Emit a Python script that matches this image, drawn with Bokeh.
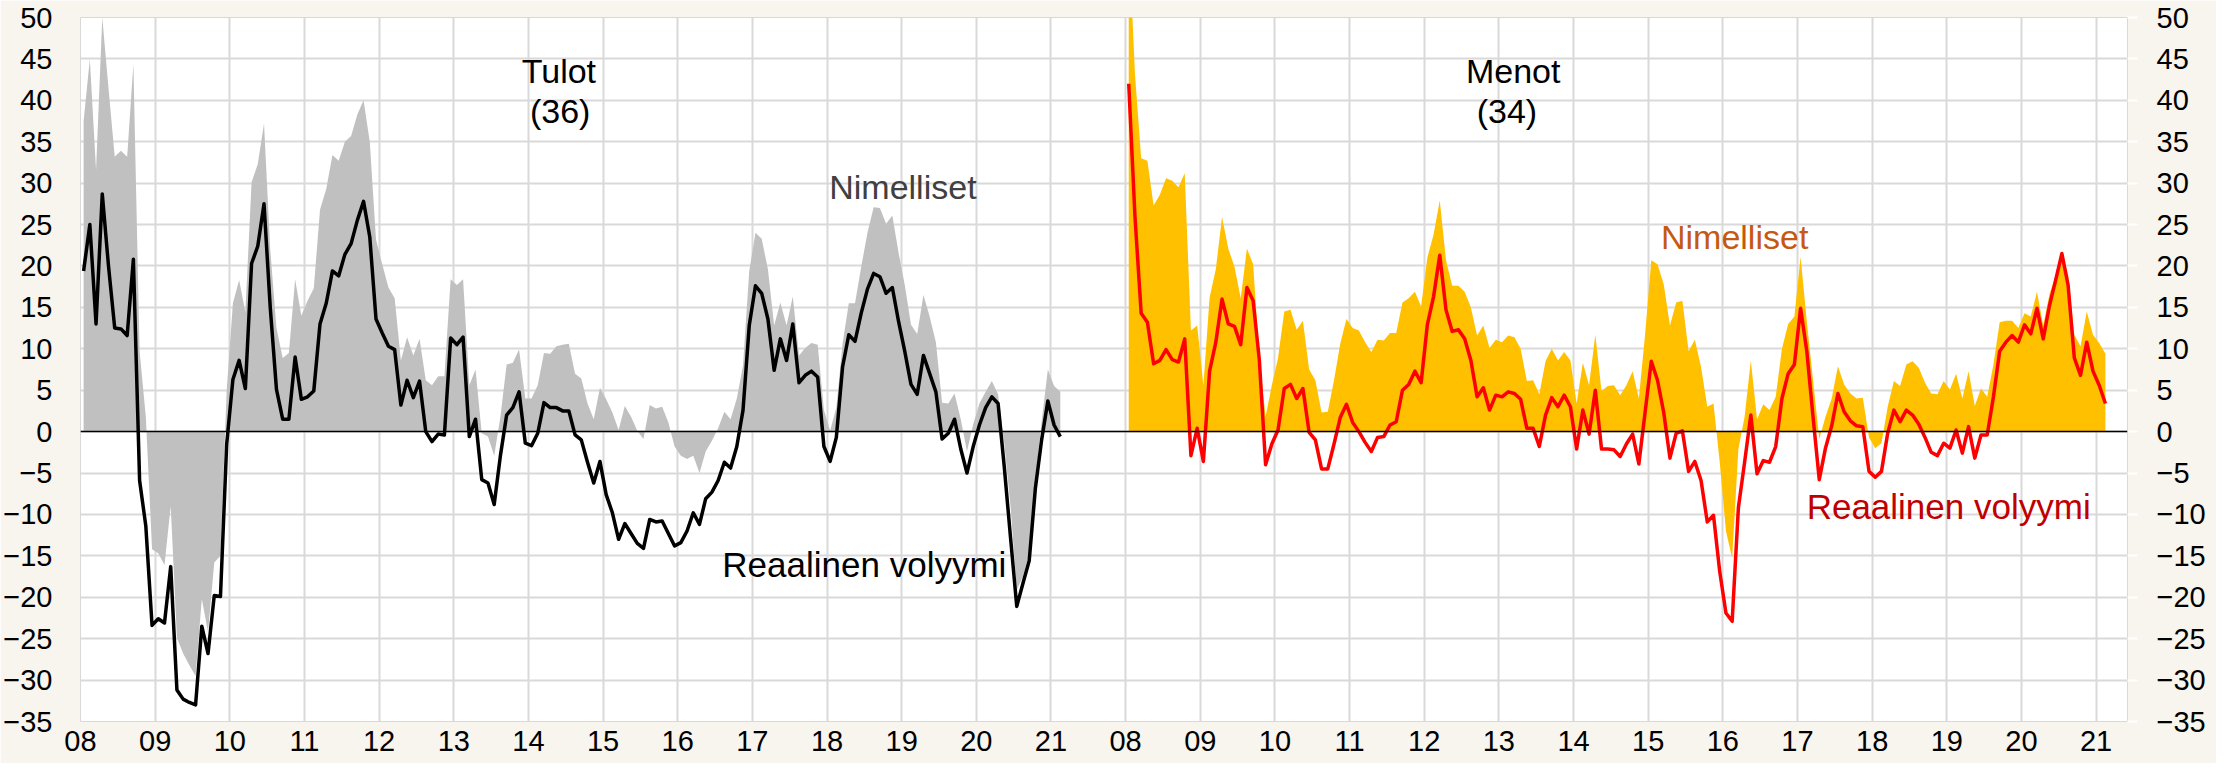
from bokeh.plotting import figure
from bokeh.models import Range1d, FixedTicker, LinearAxis, Span, Label
from bokeh.embed import file_html
from bokeh.resources import INLINE

# ---------------- data (monthly, y/y change %) ----------------
year_labels = ["08", "09", "10", "11", "12", "13", "14", "15", "16", "17", "18", "19", "20", "21"]

# Tulot (36): nominal (grey area) and real volume (black line), Jan 2008 - Feb 2021
tulot_nimelliset = [
    37.5, 45.0, 31.6, 50.0, 41.5, 33.2, 33.9, 33.2, 44.4, 9.7, 1.8, -14.2,
    -14.7, -16.1, -9.0, -24.9, -26.8, -28.2, -29.5, -20.2, -24.2, -15.8, -15.0, 5.0,
    15.5, 18.3, 14.4, 30.1, 32.3, 37.2, 22.0, 12.5, 8.9, 9.5, 18.4, 14.0,
    15.8, 17.3, 26.8, 29.3, 33.4, 32.7, 35.0, 35.7, 38.3, 40.0, 35.0, 23.2,
    20.2, 17.4, 16.1, 8.6, 11.4, 9.2, 11.2, 6.2, 5.6, 6.7, 6.7, 18.4,
    17.7, 18.4, 5.6, 7.5, -0.2, -0.6, -2.9, 1.8, 8.1, 8.3, 9.9, 4.0,
    4.0, 5.6, 9.5, 9.4, 10.3, 10.5, 10.6, 7.0, 6.4, 3.4, 1.5, 5.3,
    3.9, 2.3, 0.2, 3.1, 1.8, 0.1, -0.9, 3.2, 2.8, 3.0, 1.1, -1.8,
    -2.9, -3.3, -2.9, -5.0, -2.4, -1.1, 0.4, 2.4, 1.5, 4.0, 8.0, 19.4,
    24.0, 23.3, 19.6, 12.8, 15.6, 12.8, 16.3, 9.2, 10.1, 10.7, 10.5, 2.6,
    0.1, 2.9, 10.6, 15.5, 15.5, 19.9, 24.0, 27.1, 27.0, 25.1, 26.1, 21.6,
    17.7, 12.9, 11.8, 16.5, 13.9, 10.8, 3.5, 3.4, 4.6, 1.5, -2.4, 0.9,
    3.4, 4.8, 6.1, 4.5, -1.5, -9.0, -19.1, -17.5, -14.7, -5.9, 1.2, 7.5,
    5.5, 4.8,
]
tulot_reaalinen = [
    19.4, 25.0, 13.0, 28.7, 20.0, 12.5, 12.4, 11.6, 20.8, -5.9, -11.4, -23.4,
    -22.6, -23.1, -16.3, -31.2, -32.3, -32.7, -33.0, -23.5, -26.8, -19.8, -19.9, -1.5,
    6.3, 8.6, 5.2, 20.3, 22.4, 27.5, 15.0, 5.1, 1.5, 1.5, 9.0, 3.9,
    4.2, 4.9, 13.0, 15.5, 19.4, 18.8, 21.4, 22.7, 25.5, 27.8, 23.5, 13.6,
    11.9, 10.3, 9.9, 3.2, 6.2, 4.1, 6.1, 0.0, -1.2, -0.3, -0.4, 11.3,
    10.5, 11.4, -0.6, 1.5, -5.8, -6.2, -8.8, -2.9, 2.0, 2.9, 4.8, -1.4,
    -1.7, -0.2, 3.5, 2.9, 2.9, 2.5, 2.5, -0.4, -1.0, -3.7, -6.2, -3.6,
    -7.6, -9.8, -13.0, -11.1, -12.3, -13.5, -14.1, -10.6, -10.9, -10.8, -12.3, -13.8,
    -13.4, -12.0, -9.8, -11.2, -8.1, -7.3, -5.9, -3.7, -4.4, -1.8, 2.6, 12.8,
    17.6, 16.7, 13.6, 7.4, 11.2, 8.6, 13.0, 5.9, 6.8, 7.3, 6.6, -1.8,
    -3.6, -0.7, 7.8, 11.7, 10.9, 14.3, 17.2, 19.1, 18.7, 16.7, 17.4, 13.3,
    9.7, 5.7, 4.5, 9.2, 7.0, 4.8, -0.9, -0.2, 1.5, -2.1, -5.0, -1.8,
    0.8, 2.9, 4.2, 3.4, -4.3, -12.8, -21.1, -18.3, -15.6, -6.8, -1.0, 3.7,
    0.8, -0.6,
]

# Menot (34): nominal (yellow area) and real volume (red line), Jan 2008 - Feb 2021
menot_nimelliset = [
    60.0, 43.2, 33.0, 32.7, 27.3, 28.6, 30.6, 30.3, 29.5, 31.2, 12.2, 12.8,
    5.6, 16.2, 19.6, 25.9, 22.1, 19.9, 16.1, 22.1, 20.2, 8.9, 1.8, 5.6,
    8.9, 14.5, 14.7, 12.3, 13.4, 7.5, 6.2, 2.3, 2.4, 6.2, 10.6, 13.6,
    12.5, 12.2, 10.8, 9.6, 11.1, 11.0, 11.9, 11.9, 15.6, 16.1, 16.9, 15.1,
    21.0, 23.8, 27.9, 20.7, 17.6, 17.6, 16.9, 15.0, 11.6, 12.8, 10.1, 11.1,
    10.8, 11.6, 11.4, 10.0, 6.1, 6.2, 4.5, 8.5, 10.0, 8.6, 9.6, 8.6,
    3.4, 8.3, 5.6, 11.7, 4.9, 5.5, 5.6, 4.4, 5.6, 7.3, 4.0, 11.7,
    20.7, 20.2, 17.8, 12.8, 15.6, 15.8, 9.7, 11.1, 7.8, 3.0, 3.4, -3.7,
    -12.0, -15.3, -2.1, 1.8, 8.6, 1.5, 3.3, 2.6, 4.2, 10.0, 13.0, 13.9,
    21.1, 13.3, 6.2, -0.9, 1.8, 4.0, 7.9, 5.7, 4.6, 4.0, 4.1, -0.7,
    -2.0, -1.4, 3.0, 6.1, 5.5, 8.1, 8.5, 7.7, 5.9, 4.6, 4.5, 6.1,
    5.1, 7.0, 4.0, 7.3, 3.1, 5.2, 4.2, 8.1, 13.2, 13.4, 13.4, 12.5,
    14.3, 13.9, 16.9, 12.8, 16.6, 18.8, 21.7, 18.9, 11.7, 10.3, 14.5, 11.7,
    10.7, 9.4,
]
menot_reaalinen = [
    42.0, 26.0, 14.3, 13.2, 8.2, 8.6, 9.9, 8.7, 8.4, 11.2, -2.9, 0.4,
    -3.6, 7.3, 10.8, 16.0, 13.0, 12.7, 10.5, 17.4, 15.8, 8.6, -4.0, -1.5,
    0.2, 5.2, 5.7, 4.0, 5.2, -0.1, -1.0, -4.5, -4.5, -1.5, 1.7, 3.3,
    1.1, 0.0, -1.3, -2.4, -0.7, -0.6, 0.8, 1.2, 5.0, 5.7, 7.3, 5.9,
    12.9, 16.3, 21.3, 14.7, 12.1, 12.3, 11.2, 8.6, 4.2, 5.3, 2.6, 4.4,
    4.2, 4.8, 4.6, 3.9, 0.4, 0.4, -1.8, 2.0, 4.1, 3.0, 4.4, 3.0,
    -2.1, 2.6, -0.3, 5.0, -2.1, -2.1, -2.2, -3.0, -1.5, -0.3, -3.9, 2.3,
    8.5, 6.2, 2.3, -3.2, -0.2, 0.1, -4.8, -3.6, -5.9, -10.9, -10.1, -16.9,
    -21.9, -22.9, -9.2, -3.7, 2.0, -5.1, -3.5, -3.7, -1.8, 4.0, 7.0, 8.1,
    14.9, 9.7, 1.8, -5.8, -2.0, 0.7, 4.6, 2.4, 1.3, 0.7, 0.6, -4.8,
    -5.5, -4.8, -0.2, 2.6, 1.2, 2.6, 2.0, 0.9, -0.7, -2.5, -2.9, -1.4,
    -2.0, 0.2, -2.6, 0.6, -3.2, -0.4, -0.4, 4.2, 9.7, 10.8, 11.6, 10.8,
    12.9, 11.8, 14.9, 11.2, 15.2, 18.3, 21.5, 17.7, 8.9, 6.8, 10.8, 7.3,
    5.6, 3.4,
]

# ---------------- x positions: month index, second panel offset 14 years ----------------
PANEL2_OFFSET = 14 * 12
x_tulot = [m + 0.5 for m in range(len(tulot_nimelliset))]
x_menot = [PANEL2_OFFSET + m + 0.5 for m in range(len(menot_nimelliset))]

year_ticks = [12 * i for i in range(len(year_labels))] + \
             [PANEL2_OFFSET + 12 * i for i in range(len(year_labels))]
tick_overrides = {}
for i, lab in enumerate(year_labels):
    tick_overrides[12 * i] = lab
    tick_overrides[PANEL2_OFFSET + 12 * i] = lab

y_ticks = list(range(-35, 51, 5))

FONT = "Liberation Sans"
BG = "#f8f4ee"
GRID = "#d9d9d9"
TICK_SIZE = "29px"
LABEL_SIZE = "34px"

p = figure(width=2216, height=763, output_backend="svg", toolbar_location=None,
           x_range=Range1d(0, 329.05), y_range=Range1d(-35, 50),
           min_border_left=77, min_border_right=89, min_border_top=17, min_border_bottom=42,
           background_fill_color="white", border_fill_color=BG,
           outline_line_color=GRID, outline_line_width=1,
           x_axis_location="below", y_axis_location="left")

# areas
p.varea(x=x_tulot, y1=0, y2=tulot_nimelliset, fill_color="#c0c0c0")
p.varea(x=x_menot, y1=0, y2=menot_nimelliset, fill_color="#ffc000")

# zero line
p.add_layout(Span(location=0, dimension="width", line_color="black", line_width=1.5))

# lines
p.line(x_tulot, tulot_reaalinen, line_color="black", line_width=3.5, line_join="round")
p.line(x_menot, menot_reaalinen, line_color="#ff0000", line_width=3.5, line_join="round")

# axes
xt = FixedTicker(ticks=year_ticks)
p.xaxis.ticker = xt
p.xaxis.major_label_overrides = tick_overrides
p.xgrid.ticker = xt
yt = FixedTicker(ticks=y_ticks)
p.yaxis.ticker = yt
p.ygrid.ticker = yt

for ax in [p.xaxis[0], p.yaxis[0]]:
    ax.axis_line_color = None
    ax.major_tick_line_color = None
    ax.minor_tick_line_color = None
    ax.major_tick_out = 0
    ax.major_tick_in = 0
    ax.major_label_text_font = FONT
    ax.major_label_text_font_size = TICK_SIZE
    ax.major_label_text_color = "black"
    ax.major_label_text_line_height = 1.0
p.xaxis.major_label_standoff = 9
p.yaxis.major_label_standoff = 28

right = LinearAxis(ticker=yt, axis_line_color=None, minor_tick_line_color=None,
                   major_tick_line_color="white", major_tick_line_width=2,
                   major_tick_out=10, major_tick_in=0, major_label_standoff=19,
                   major_label_text_font=FONT, major_label_text_font_size=TICK_SIZE,
                   major_label_text_color="black", major_label_text_line_height=1.0)
p.add_layout(right, "right")

p.xgrid.grid_line_color = GRID
p.xgrid.grid_line_width = 2
p.ygrid.grid_line_color = GRID
p.ygrid.grid_line_width = 2

# annotations
def lab(x, y, text, color, size=LABEL_SIZE):
    p.add_layout(Label(x=x, y=y, text=text, text_color=color, text_font=FONT,
                       text_font_size=size, text_align="center", text_baseline="middle"))

lab(76.9, 43.6, "Tulot", "black")
lab(77.1, 38.7, "(36)", "black")
lab(132.2, 29.5, "Nimelliset", "#404040")
lab(126.0, -16.1, "Reaalinen volyymi", "black", "35px")
lab(230.3, 43.6, "Menot", "black")
lab(229.3, 38.7, "(34)", "black")
lab(265.9, 23.5, "Nimelliset", "#c65911")
lab(300.3, -9.0, "Reaalinen volyymi", "#c00000", "35px")

open("out.html", "w").write(file_html(p, INLINE))
